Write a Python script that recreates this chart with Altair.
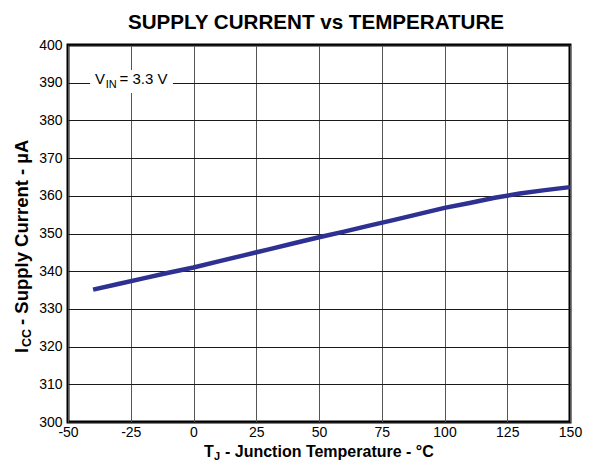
import altair as alt
import pandas as pd

# Data
temps = [-40, -30, -20, -10, 0, 10, 20, 30, 40, 50, 60, 70, 80, 90, 100, 110, 120, 130, 140, 150]
icc = [335.1, 336.6, 338.1, 339.6, 341.0, 342.6, 344.2, 345.8, 347.4, 349.0,
       350.5, 352.1, 353.6, 355.2, 356.8, 358.1, 359.5, 360.6, 361.5, 362.3]
x_ticks = [-50, -25, 0, 25, 50, 75, 100, 125, 150]
y_ticks = [300, 310, 320, 330, 340, 350, 360, 370, 380, 390, 400]

title_text = "SUPPLY CURRENT vs TEMPERATURE"
xt_main, xt_sub, xt_rest = "T", "J", "- Junction Temperature - °C"
yt_main, yt_sub, yt_rest = "I", "CC", "- Supply Current - µA"
ann_main, ann_sub, ann_rest = "V", "IN", "= 3.3 V"

FONT = "Liberation Sans"
W, H = 502, 377

df = pd.DataFrame({"T": temps, "I": icc})

xscale = alt.Scale(domain=[-50, 150], nice=False)
yscale = alt.Scale(domain=[300, 400], nice=False)

xaxis = alt.Axis(values=x_ticks, title=None, grid=True, gridColor="#555555",
                 gridWidth=1, ticks=False, domain=False, labelFont=FONT,
                 labelFontSize=14, labelColor="black", labelPadding=3,
                 labelFlush=False, labelOverlap=False, labelExpr="'' + datum.value")
yaxis = alt.Axis(values=y_ticks, title=None, grid=True,
                 gridColor="#1a1a1a", gridWidth=1, ticks=False, domain=False,
                 labelFont=FONT, labelFontSize=14, labelColor="black",
                 labelPadding=6, labelOverlap=False, labelExpr="'' + datum.value")

line = alt.Chart(df).mark_line(color="#2E3192", strokeWidth=4.5).encode(
    x=alt.X("T:Q", scale=xscale, axis=xaxis),
    y=alt.Y("I:Q", scale=yscale, axis=yaxis),
)

# white box behind the V_IN annotation
box = alt.Chart(pd.DataFrame({"x1": [-41.2], "x2": [-8.2], "y1": [387.3], "y2": [393.4]})).mark_rect(
    color="white").encode(
    x=alt.X("x1:Q", scale=xscale, axis=xaxis), x2="x2:Q",
    y=alt.Y("y1:Q", scale=yscale, axis=yaxis), y2="y2:Q")


def data_text(txt, xv, yv, size):
    return alt.Chart(pd.DataFrame({"t": [txt], "x": [xv], "y": [yv]})).mark_text(
        font=FONT, fontSize=size, align="left", baseline="alphabetic", color="black").encode(
        x=alt.X("x:Q", scale=xscale, axis=xaxis), y=alt.Y("y:Q", scale=yscale, axis=yaxis),
        text="t:N")


ann = [
    data_text(ann_main, -39.2, 389.6, 15),
    data_text(ann_sub, -35.0, 388.6, 11),
    data_text(ann_rest, -29.5, 389.6, 15),
]


def px_text(txt, px, py, size, angle=0, align="left"):
    return alt.Chart(pd.DataFrame({"t": [txt]})).mark_text(
        font=FONT, fontSize=size, fontWeight="bold", align=align, baseline="alphabetic",
        color="black", angle=angle).encode(
        x=alt.value(px), y=alt.value(py), text="t:N")


X0 = 146
titles = [
    px_text(title_text, W / 2 - 3, -16, 20.6, align="center"),
    px_text(xt_main, X0 - 10, 412, 16),
    px_text(xt_sub, X0, 415, 11),
    px_text(xt_rest, X0 + 11, 412, 16),
]
Y0 = 308
titles += [
    px_text(yt_main, -40, Y0, 18, angle=270),
    px_text(yt_sub, -37, Y0 - 6, 12.5, angle=270),
    px_text(yt_rest, -40, Y0 - 28, 18.5, angle=270),
]

chart = alt.layer(line, box, *ann, *titles).properties(
    width=W, height=H,
    background="white",
    autosize=alt.AutoSizeParams(type="none"),
    padding={"left": 60, "top": 37, "right": 14, "bottom": 41},
).configure_view(stroke="black", strokeWidth=3)

chart.save("out.html", embed_options={"renderer": "svg", "actions": False})
